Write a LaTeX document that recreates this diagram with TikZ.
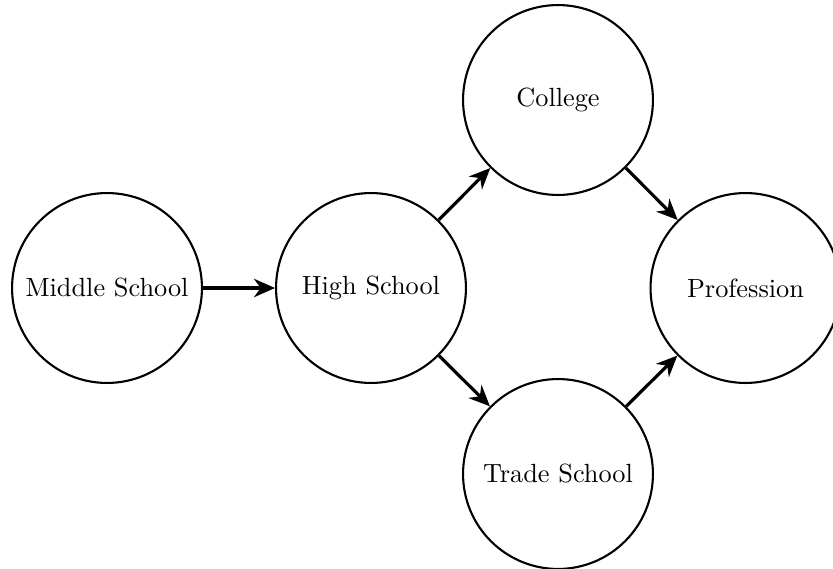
\documentclass[tikz,border=0pt]{standalone}
\usetikzlibrary{arrows.meta}
\begin{document}
\begin{tikzpicture}[x=0.3802pt,y=-0.3802pt,
  stage/.style={draw,thick,circle,minimum size=72.2pt,inner sep=0pt},
  flow/.style={-{Stealth[length=8pt,width=7pt,inset=2.6pt]},line width=1.2pt}]
  \useasboundingbox (0,0) rectangle (833,569);
  \node[stage] (ms)   at (107,288)   {Middle School};
  \node[stage] (hs)   at (371,288)   {High School};
  \node[stage] (col)  at (558,100)   {College};
  \node[stage] (ts)   at (558,474)   {Trade School};
  \node[stage] (prof) at (745.5,288) {Profession};
  \draw[flow] (ms) -- (hs);
  \draw[flow] (hs) -- (col);
  \draw[flow] (hs) -- (ts);
  \draw[flow] (col) -- (prof);
  \draw[flow] (ts) -- (prof);
\end{tikzpicture}
\end{document}
